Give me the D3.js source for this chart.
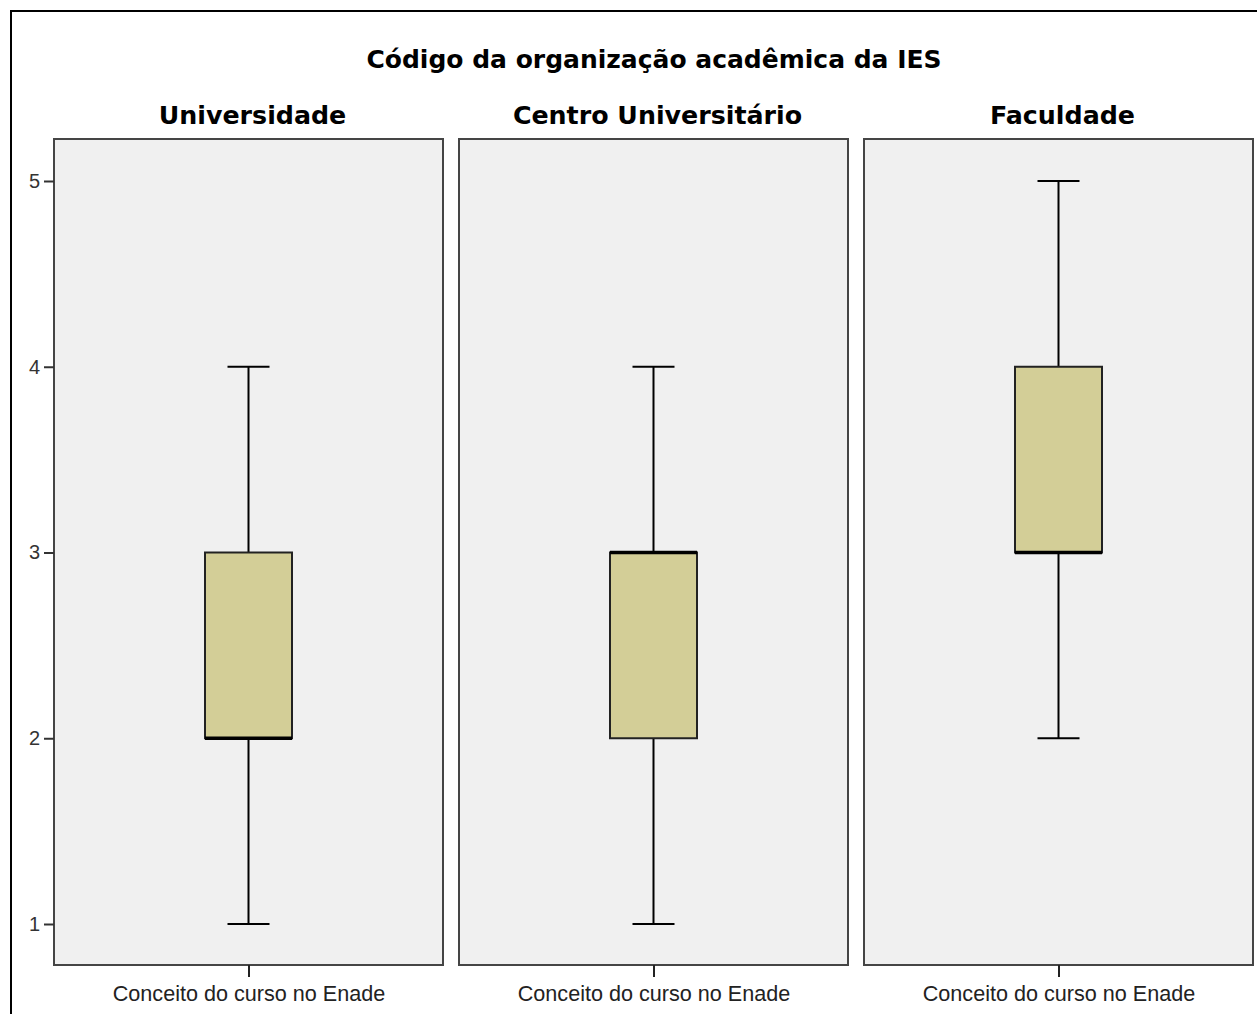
<!DOCTYPE html>
<html><head><meta charset="utf-8">
<script src="https://cdn.jsdelivr.net/npm/d3@7"></script>
<style>body{margin:0;background:#fff}</style>
</head><body>
<svg id="c" width="1257" height="1014"></svg>
<script>
const panels = ["Universidade", "Centro Universitário", "Faculdade"];
const minVals = [1, 1, 2];
const q1Vals = [2, 2, 3];
const medVals = [2, 3, 3];
const q3Vals = [3, 3, 4];
const maxVals = [4, 4, 5];
const yTicks = [1, 2, 3, 4, 5];
const xLabel = "Conceito do curso no Enade";
const title = "Código da organização acadêmica da IES";

const svg = d3.select("#c");
const font = "'DejaVu Sans', Verdana, sans-serif";
const fontR = "'Liberation Sans', Arial, sans-serif";

// outer frame
svg.append("rect").attr("x", 11).attr("y", 11).attr("width", 1260).attr("height", 1020)
  .attr("fill", "none").attr("stroke", "#000").attr("stroke-width", 2);

const panelTop = 139, panelBottom = 965;
const x = d3.scaleBand().domain(panels).range([54, 1253]).paddingInner(16 / 405).paddingOuter(0);
const y = d3.scaleLinear().domain([1, 5]).range([924, 181]);

svg.append("text").attr("x", 654).attr("y", 68).attr("text-anchor", "middle")
  .attr("font-family", font).attr("font-weight", "bold").attr("font-size", 25).text(title);

const boxW = 87, capW = 42;

panels.forEach((p, i) => {
  const g = svg.append("g").attr("transform", `translate(${x(p)},0)`);
  const bw = x.bandwidth();
  const cx = bw / 2;
  g.append("rect").attr("x", 0).attr("y", panelTop).attr("width", bw).attr("height", panelBottom - panelTop)
    .attr("fill", "#f0f0f0").attr("stroke", "#454545").attr("stroke-width", 2);
  g.append("text").attr("x", cx + 4).attr("y", 124).attr("text-anchor", "middle")
    .attr("font-family", font).attr("font-weight", "bold").attr("font-size", 25.3).text(p);

  // whiskers
  g.append("line").attr("x1", cx).attr("x2", cx).attr("y1", y(maxVals[i])).attr("y2", y(q3Vals[i]))
    .attr("stroke", "#000").attr("stroke-width", 2);
  g.append("line").attr("x1", cx).attr("x2", cx).attr("y1", y(q1Vals[i])).attr("y2", y(minVals[i]))
    .attr("stroke", "#000").attr("stroke-width", 2);
  [minVals[i], maxVals[i]].forEach(v => {
    g.append("line").attr("x1", cx - capW / 2).attr("x2", cx + capW / 2).attr("y1", y(v)).attr("y2", y(v))
      .attr("stroke", "#000").attr("stroke-width", 2);
  });
  // box
  g.append("rect").attr("x", cx - boxW / 2).attr("y", y(q3Vals[i])).attr("width", boxW)
    .attr("height", y(q1Vals[i]) - y(q3Vals[i]))
    .attr("fill", "#d3ce97").attr("stroke", "#222").attr("stroke-width", 2);
  // median
  g.append("line").attr("x1", cx - boxW / 2).attr("x2", cx + boxW / 2).attr("y1", y(medVals[i])).attr("y2", y(medVals[i]))
    .attr("stroke", "#000").attr("stroke-width", 3.5);

  // bottom axis tick and label
  const xa = d3.scalePoint().domain([xLabel]).range([0, bw]).padding(0.5);
  const axB = g.append("g").attr("transform", `translate(0,${panelBottom})`)
    .call(d3.axisBottom(xa).tickSize(12).tickSizeOuter(0));
  axB.select(".domain").remove();
  axB.selectAll("line").attr("stroke", "#222").attr("stroke-width", 2);
  axB.selectAll("text").attr("font-family", fontR).attr("font-size", 21.6).attr("fill", "#222")
    .attr("y", 36).attr("dy", 0);
});

// y-axis
const ay = svg.append("g").attr("transform", "translate(54,0)")
  .call(d3.axisLeft(y).tickValues(yTicks).tickFormat(d3.format("d")).tickSize(10).tickPadding(4));
ay.select(".domain").remove();
ay.selectAll("line").attr("stroke", "#333").attr("stroke-width", 2);
ay.selectAll("text").attr("font-family", fontR).attr("font-size", 20).attr("fill", "#333");
</script>
</body></html>
